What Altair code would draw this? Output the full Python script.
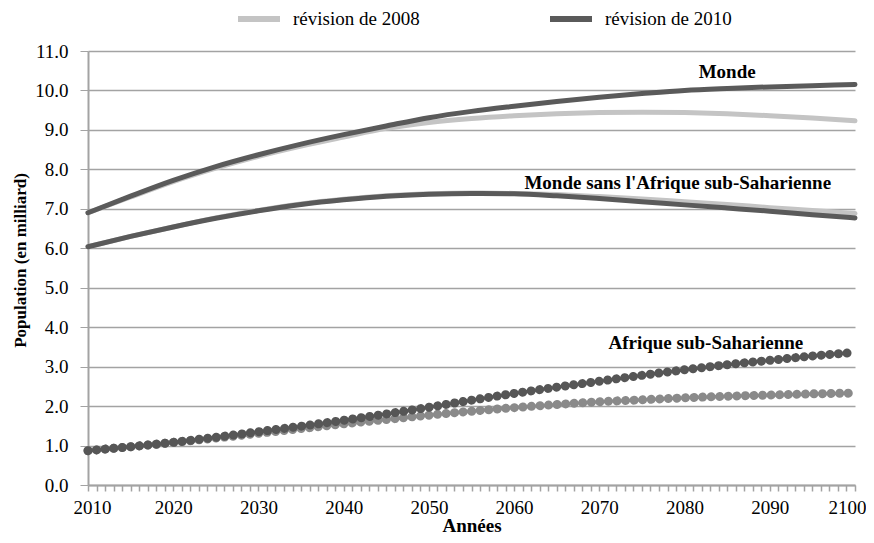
import altair as alt
import pandas as pd

# ---- data (every 5 years) ----
annees = list(range(2010, 2101, 5))

monde_2008 = [6.90, 7.30, 7.69, 8.03, 8.33, 8.59, 8.82, 9.04, 9.19, 9.29, 9.36, 9.41, 9.44, 9.45, 9.44, 9.41, 9.36, 9.30, 9.23]
monde_2010 = [6.90, 7.32, 7.72, 8.07, 8.37, 8.64, 8.88, 9.10, 9.31, 9.47, 9.60, 9.72, 9.83, 9.92, 10.00, 10.05, 10.09, 10.12, 10.15]

hors_ssa_2008 = [6.04, 6.30, 6.54, 6.77, 6.96, 7.12, 7.24, 7.33, 7.38, 7.40, 7.39, 7.36, 7.31, 7.25, 7.18, 7.11, 7.03, 6.96, 6.88]
hors_ssa_2010 = [6.04, 6.30, 6.54, 6.76, 6.95, 7.11, 7.23, 7.32, 7.37, 7.39, 7.38, 7.33, 7.26, 7.18, 7.10, 7.02, 6.94, 6.85, 6.77]

ssa_2008 = [0.87, 0.97, 1.08, 1.19, 1.31, 1.43, 1.55, 1.66, 1.77, 1.87, 1.96, 2.04, 2.11, 2.16, 2.21, 2.25, 2.28, 2.31, 2.33]
ssa_2010 = [0.87, 0.97, 1.08, 1.21, 1.35, 1.49, 1.64, 1.80, 1.97, 2.15, 2.32, 2.48, 2.63, 2.78, 2.92, 3.05, 3.16, 3.27, 3.36]

revisions = ["révision de 2008", "révision de 2010"]
series_names = ["Monde", "Monde sans l'Afrique sub-Saharienne", "Afrique sub-Saharienne"]

annot_text = ["Monde", "Monde sans l'Afrique sub-Saharienne", "Afrique sub-Saharienne"]
annot_annee = [2085, 2079.2, 2082.5]
annot_valeur = [10.47, 7.66, 3.61]

# ---- build tables ----
rows = []
for serie, rev, vals in [
    (series_names[0], revisions[0], monde_2008),
    (series_names[0], revisions[1], monde_2010),
    (series_names[1], revisions[0], hors_ssa_2008),
    (series_names[1], revisions[1], hors_ssa_2010),
    (series_names[2], revisions[0], ssa_2008),
    (series_names[2], revisions[1], ssa_2010),
]:
    for a, v in zip(annees, vals):
        rows.append({"annee": a, "valeur": v, "serie": serie, "revision": rev})
df = pd.DataFrame(rows)
annot = pd.DataFrame({"texte": annot_text, "annee": annot_annee, "valeur": annot_valeur})

FONT = "Liberation Serif"
GRID = "#a3a3a3"

x_axis = alt.Axis(
    values=list(range(2010, 2101)),
    tickCount=91,
    labelExpr="datum.value % 10 == 0 ? datum.label : ''",
    format="d",
    labelOverlap=False,
    labelFlush=False,
    labelOffset={
        "condition": [
            {"test": "datum.value == 2100", "value": -8},
            {"test": "datum.value == 2010", "value": 4},
        ],
        "value": 0,
    },
    grid=False,
    tickSize=6,
    tickWidth=1.5,
    labelPadding=7,
    title="Années",
    titleY=46,
    titleBaseline="alphabetic",
    titleFontSize=19,
)
y_axis = alt.Axis(
    values=list(range(0, 12)),
    tickCount=12,
    format=".1f",
    grid=True,
    tickSize=8,
    labelPadding=12,
    title="Population (en milliard)",
    titleX=-68,
    titleY=209,
    titleAlign="center",
    titleBaseline="middle",
    titleFontSize=17,
)
x_scale = alt.Scale(domain=[2010, 2100], nice=False, zero=False)
y_scale = alt.Scale(domain=[0, 11], nice=False)
x_enc = alt.X("annee:Q", scale=x_scale, axis=x_axis)
y_enc = alt.Y("valeur:Q", scale=y_scale, axis=y_axis)

color_scale = alt.Scale(domain=revisions, range=["#c4c4c4", "#5a5a5a"])
legend = alt.Legend(
    title=None,
    orient="none",
    direction="horizontal",
    legendX=147,
    legendY=-56,
    symbolType="stroke",
    symbolSize=1764,
    symbolStrokeWidth=6,
    labelFontSize=19,
    labelFont=FONT,
    labelColor="black",
    labelOffset=10,
    columnPadding=118,
    padding=0,
)

base = alt.Chart(df)
lignes = base.transform_filter(alt.datum.serie != series_names[2])

l2008 = lignes.transform_filter(alt.datum.revision == revisions[0]).mark_line(
    strokeWidth=5, interpolate="monotone", strokeCap="round"
).encode(x=x_enc, y=y_enc, color=alt.Color("revision:N", scale=color_scale, legend=legend), detail="serie:N")

l2010 = lignes.transform_filter(alt.datum.revision == revisions[1]).mark_line(
    strokeWidth=5, interpolate="monotone", strokeCap="round"
).encode(x=x_enc, y=y_enc, color=alt.Color("revision:N", scale=color_scale, legend=legend), detail="serie:N")

ssa = base.transform_filter(alt.datum.serie == series_names[2])
d2008 = ssa.transform_filter(alt.datum.revision == revisions[0]).mark_line(
    strokeWidth=9, interpolate="monotone", strokeCap="round", strokeDash=[0.1, 8.47], color="#8a8a8a"
).encode(x=x_enc, y=y_enc)
d2010 = ssa.transform_filter(alt.datum.revision == revisions[1]).mark_line(
    strokeWidth=9, interpolate="monotone", strokeCap="round", strokeDash=[0.1, 8.5], color="#565656"
).encode(x=x_enc, y=y_enc)

textes = alt.Chart(annot).mark_text(
    font=FONT, fontSize=19, fontWeight="bold", color="black", align="center", baseline="middle"
).encode(x=alt.X("annee:Q", scale=x_scale, axis=x_axis), y=alt.Y("valeur:Q", scale=y_scale, axis=y_axis), text="texte:N")

chart = (
    alt.layer(l2008, l2010, d2008, d2010, textes)
    .properties(
        width=767,
        height=434,
        autosize=alt.AutoSizeParams(type="none"),
        padding={"left": 80, "top": 43, "right": 11, "bottom": 50},
    )
    .configure_view(stroke=None)
    .configure_axis(
        labelFont=FONT,
        titleFont=FONT,
        labelFontSize=19,
        labelColor="black",
        titleColor="black",
        titleFontWeight="bold",
        domainColor=GRID,
        domainWidth=2,
        tickColor=GRID,
        gridColor=GRID,
        gridWidth=1.5,
    )
)

chart.save("out.html", embed_options={"renderer": "svg", "actions": False})
